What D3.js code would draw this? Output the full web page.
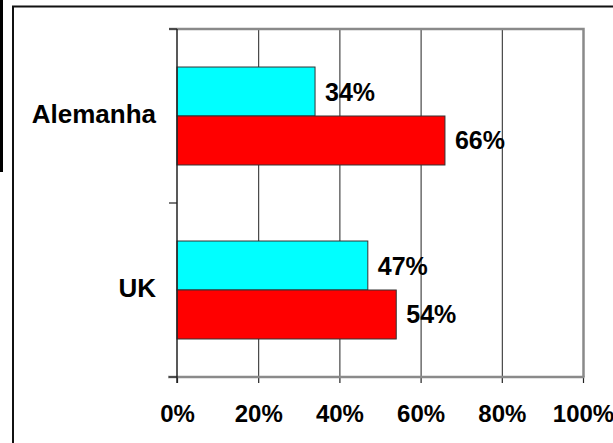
<!DOCTYPE html>
<html><head><meta charset="utf-8">
<script src="https://cdn.jsdelivr.net/npm/d3@7"></script>
<style>
html,body{margin:0;padding:0;background:#fff;}
svg{display:block;}
text{font-family:"Liberation Sans",Arial,Helvetica,sans-serif;font-weight:bold;fill:#000;}
</style></head>
<body>
<script>
const categories = ["Alemanha", "UK"];
const seriesNames = ["A", "B"];
const seriesA = [34, 47];   // cyan
const seriesB = [66, 54];   // red
const seriesColors = ["#00FFFF", "#FF0000"];
const tickValues = [0, 20, 40, 60, 80, 100];
const tickLabels = ["0%", "20%", "40%", "60%", "80%", "100%"];

const W = 613, H = 443;
const svg = d3.select("body").append("svg").attr("width", W).attr("height", H);

// left black artifact bar
svg.append("rect").attr("x", 0).attr("y", 0).attr("width", 3).attr("height", 172).attr("fill", "#000");
// outer chart border (extends beyond view)
svg.append("rect").attr("x", 13).attr("y", 6.5).attr("width", 640).attr("height", 480)
  .attr("fill", "none").attr("stroke", "#111").attr("stroke-width", 2);

const L = 177, R = 583, T = 29, B = 377;
const x = d3.scaleLinear().domain([0, 100]).range([L, R]);
const y = d3.scaleBand().domain(categories).range([T, B]).paddingInner(0).paddingOuter(0);
const ySub = d3.scaleBand().domain(seriesNames).range([0, y.bandwidth()]).paddingInner(0).paddingOuter(0.776);

// gridlines
svg.append("g").selectAll("line").data(tickValues.filter(v => v > 0 && v < 100)).join("line")
  .attr("x1", d => x(d) + 0.5).attr("x2", d => x(d) + 0.5)
  .attr("y1", T).attr("y2", B)
  .attr("stroke", "#222").attr("stroke-width", 1);

// plot area top/right border (gray)
svg.append("path").attr("d", `M${L - 8},${T} H${R + 0.5} V${B}`)
  .attr("fill", "none").attr("stroke", "#8a8a8a").attr("stroke-width", 2.5);

// bars
const data = categories.map((c, i) => ({cat: c, vals: [
  {s: seriesNames[0], v: seriesA[i], color: seriesColors[0]},
  {s: seriesNames[1], v: seriesB[i], color: seriesColors[1]}
]}));

const groups = svg.append("g").selectAll("g").data(data).join("g")
  .attr("transform", d => `translate(0,${y(d.cat)})`);

groups.selectAll("rect").data(d => d.vals).join("rect")
  .attr("x", x(0)).attr("y", d => ySub(d.s))
  .attr("width", d => x(d.v) - x(0)).attr("height", ySub.bandwidth())
  .attr("fill", d => d.color).attr("stroke", "#333").attr("stroke-width", 1);

groups.selectAll("text").data(d => d.vals).join("text")
  .attr("x", d => x(d.v) + 10)
  .attr("y", d => ySub(d.s) + ySub.bandwidth() / 2 + 9)
  .style("font-size", "25px")
  .text(d => d.v + "%");

// bottom axis
const xAxis = d3.axisBottom(x).tickValues(tickValues).tickFormat((d, i) => tickLabels[i]).tickSize(6).tickPadding(8);
const gx = svg.append("g").attr("transform", `translate(0,${B})`).call(xAxis);
gx.select(".domain").remove();
gx.selectAll(".tick line").attr("stroke", "#222").attr("stroke-width", 1.2);
gx.selectAll(".tick text").attr("font-family", null).attr("font-size", null)
  .style("font-size", "24px").attr("dy", 0).attr("y", 45);
svg.append("line").attr("x1", L - 9).attr("x2", R + 1.5).attr("y1", B).attr("y2", B)
  .attr("stroke", "#8a8a8a").attr("stroke-width", 2.5);

// left axis
svg.append("line").attr("x1", L).attr("x2", L).attr("y1", T).attr("y2", B + 6)
  .attr("stroke", "#222").attr("stroke-width", 1.5);
const yTicks = [T, y(categories[1]), B];
svg.append("g").selectAll("line").data(yTicks).join("line")
  .attr("x1", L - 8).attr("x2", L).attr("y1", d => d).attr("y2", d => d)
  .attr("stroke", "#222").attr("stroke-width", 1.2);

// category labels
svg.append("g").selectAll("text").data(categories).join("text")
  .attr("x", 156).attr("y", d => y(d) + y.bandwidth() / 2 + 6.5)
  .style("font-size", "26px")
  .attr("text-anchor", "end").text(d => d);
</script>
</body></html>
